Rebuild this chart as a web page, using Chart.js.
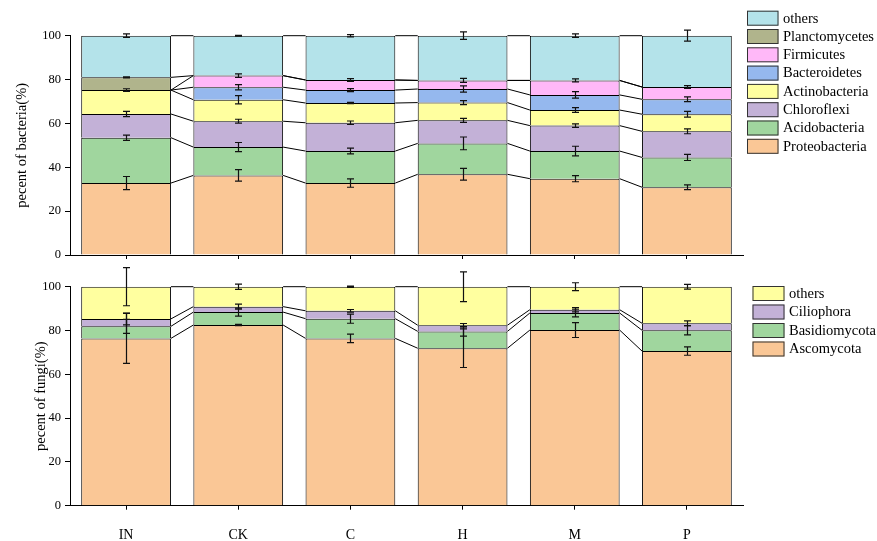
<!DOCTYPE html>
<html>
<head>
<meta charset="utf-8">
<script src="https://cdn.jsdelivr.net/npm/chart.js@4.4.0/dist/chart.umd.min.js"></script>
<style>
  html, body { margin: 0; padding: 0; background: #fff; }
  #wrap { position: relative; width: 877px; height: 541px; }
  canvas { position: absolute; left: 0; top: 0; }
</style>
</head>
<body>
<div id="wrap">
  <canvas id="fungiChart" width="877" height="541"></canvas>
  <canvas id="bacteriaChart" width="877" height="541"></canvas>
</div>
<script>
// groups on the x axis
const groups = ['IN', 'CK', 'C', 'H', 'M', 'P'];

// bacteria, stacked bottom -> top (%)
const bacteriaTaxa = ['Proteobacteria', 'Acidobacteria', 'Chloroflexi', 'Actinobacteria',
    'Bacteroidetes', 'Firmicutes', 'Planctomycetes', 'others'];
const proteobacteria = [32.8, 36.3, 32.8, 36.8, 34.8, 30.9];
const acidobacteria  = [20.7, 12.9, 14.6, 14.1, 12.6, 13.6];
const chloroflexi    = [10.8, 11.8, 12.9, 10.5, 11.6, 11.9];
const actinobacteria = [10.9, 9.8, 9.0, 8.1, 7.1, 7.8];
const bacteroidetes  = [0, 5.7, 5.9, 6.2, 6.9, 6.8];
const firmicutes     = [0, 5.3, 4.6, 3.9, 6.6, 5.6];
const planctomycetes = [5.8, 0, 0, 0, 0, 0];
const othersBact     = [19.0, 18.2, 20.2, 20.4, 20.4, 23.4];

// error bars (±) for bacteria
const proteobacteriaErr = [3.0, 2.6, 1.9, 2.7, 1.4, 1.1];
const acidobacteriaErr  = [1.2, 2.1, 1.3, 2.9, 2.2, 1.4];
const chloroflexiErr    = [1.2, 0.9, 0.8, 0.9, 0.8, 1.1];
const actinobacteriaErr = [0.6, 1.9, 0.3, 0.9, 1.1, 1.3];
const bacteroidetesErr  = [0, 1.2, 0.7, 1.4, 1.5, 1.1];
const firmicutesErr     = [0, 0.8, 0.6, 0.9, 0.7, 0.6];
const planctomycetesErr = [0.2, 0, 0, 0, 0, 0];
const othersBactErr     = [0.8, 0.2, 0.5, 1.7, 0.8, 2.5];

// fungi, stacked bottom -> top (%)
const fungiTaxa = ['Ascomycota', 'Basidiomycota', 'Ciliophora', 'others'];
const ascomycota    = [76.4, 82.5, 76.4, 71.9, 80.2, 70.6];
const basidiomycota = [5.5, 5.9, 9.0, 7.7, 7.8, 9.5];
const ciliophora    = [3.4, 2.5, 3.6, 2.8, 1.5, 3.2];
const othersFungi   = [14.7, 9.1, 11.0, 17.6, 10.5, 16.7];

const ascomycotaErr    = [11.4, 0.3, 1.9, 8.8, 3.4, 1.9];
const basidiomycotaErr = [3.2, 1.8, 2.1, 2.2, 1.8, 2.1];
const ciliophoraErr    = [2.7, 1.1, 0.6, 0.8, 1.0, 1.1];
const othersFungiErr   = [8.7, 1.2, 0.3, 6.8, 1.8, 1.1];

const warna = {
    proteo: '#FAC796',
    acido: '#A0D69E',
    chloro: '#C3B1D7',
    actino: '#FFFF9F',
    bactero: '#95B8EE',
    firmi: '#FFB8F8',
    plancto: '#B0B48C',
    others: '#B4E3EA'
};

const fontFamily = "'Liberation Serif', 'Times New Roman', serif";
Chart.defaults.font.family = fontFamily;
Chart.defaults.color = '#000';

// garis penghubung antar batang
const connectorPlugin = {
    id: 'connectors',
    afterDatasetsDraw(chart) {
        const ctx = chart.ctx;
        ctx.save();
        ctx.strokeStyle = '#000';
        ctx.lineWidth = 1;
        chart.data.datasets.forEach((ds, d) => {
            const bars = chart.getDatasetMeta(d).data;
            ctx.beginPath();
            for (let i = 0; i < bars.length - 1; i++) {
                const a = bars[i], b = bars[i + 1];
                ctx.moveTo(a.x + a.width / 2, a.y);
                ctx.lineTo(b.x - b.width / 2, b.y);
            }
            ctx.stroke();
        });
        ctx.restore();
    }
};

// error bar di puncak tiap segmen
const errorPlugin = {
    id: 'errorBars',
    afterDraw(chart) {
        const ctx = chart.ctx;
        const yScale = chart.scales.y;
        const unit = yScale.getPixelForValue(0) - yScale.getPixelForValue(1);
        ctx.save();
        ctx.strokeStyle = '#111';
        ctx.lineWidth = 1.2;
        chart.data.datasets.forEach((ds, d) => {
            const bars = chart.getDatasetMeta(d).data;
            bars.forEach((bar, i) => {
                const err = ds.errors[i];
                if (!err) return;
                const e = err * unit;
                const x = Math.round(bar.x) + 0.5;
                ctx.beginPath();
                ctx.moveTo(x, bar.y - e);
                ctx.lineTo(x, bar.y + e);
                ctx.moveTo(x - 3.5, bar.y - e);
                ctx.lineTo(x + 3.5, bar.y - e);
                ctx.moveTo(x - 3.5, bar.y + e);
                ctx.lineTo(x + 3.5, bar.y + e);
                ctx.stroke();
            });
        });
        ctx.restore();
    }
};

// legenda kotak di kanan
const boxLegendPlugin = {
    id: 'boxLegend',
    afterDraw(chart, args, opts) {
        const ctx = chart.ctx;
        const list = chart.data.datasets.slice().reverse();
        ctx.save();
        ctx.font = '14.5px ' + fontFamily;
        ctx.textBaseline = 'middle';
        ctx.textAlign = 'left';
        list.forEach((ds, k) => {
            const top = opts.y + k * opts.step;
            ctx.fillStyle = ds.backgroundColor;
            ctx.fillRect(opts.x, top, opts.w, opts.h);
            ctx.strokeStyle = '#333';
            ctx.lineWidth = 1;
            ctx.strokeRect(opts.x + 0.5, top + 0.5, opts.w - 1, opts.h - 1);
            ctx.fillStyle = '#000';
            ctx.fillText(ds.label, opts.textX, top + opts.h / 2 + 0.5);
        });
        ctx.restore();
    }
};

function makeDatasets(taxa, series, errors, colors) {
    return taxa.map((name, i) => ({
        label: name,
        data: series[i],
        errors: errors[i],
        backgroundColor: colors[i],
        borderColor: '#000',
        borderWidth: { top: 1, left: 1, right: 1, bottom: 0 },
        borderSkipped: false,
        categoryPercentage: 1.0,
        barPercentage: 0.8
    }));
}

function makeChart(canvasId, cfg) {
    const ctx = document.getElementById(canvasId).getContext('2d');
    return new Chart(ctx, {
        type: 'bar',
        data: { labels: groups, datasets: cfg.datasets },
        options: {
            responsive: false,
            animation: false,
            devicePixelRatio: 1,
            layout: { padding: { top: cfg.top, right: 134, left: 0, bottom: 0 } },
            plugins: {
                legend: { display: false },
                tooltip: { enabled: false },
                boxLegend: cfg.legend
            },
            scales: {
                x: {
                    stacked: true,
                    offset: true,
                    grid: { color: 'transparent', tickColor: '#000', tickLength: 4, offset: false },
                    border: { display: true, color: '#000', width: 1 },
                    ticks: { display: cfg.showX, font: { size: 14 }, color: '#000', padding: 17 },
                    afterFit(s) { s.height = 541 - cfg.bottom; }
                },
                y: {
                    stacked: true,
                    min: 0,
                    max: 100,
                    ticks: { stepSize: 20, font: { size: 12.5 }, color: '#000', padding: 4 },
                    grid: { color: 'transparent', tickColor: '#000', tickLength: 5 },
                    border: { display: true, color: '#000', width: 1 },
                    title: {
                        display: true,
                        text: cfg.title,
                        font: { size: 14.5 },
                        color: '#000',
                        padding: { top: cfg.titlePad, bottom: 0 }
                    },
                    afterFit(s) { s.width = 70; }
                }
            }
        },
        plugins: [connectorPlugin, errorPlugin, boxLegendPlugin]
    });
}

document.addEventListener('DOMContentLoaded', () => {
    makeChart('bacteriaChart', {
        datasets: makeDatasets(
            bacteriaTaxa,
            [proteobacteria, acidobacteria, chloroflexi, actinobacteria, bacteroidetes, firmicutes, planctomycetes, othersBact],
            [proteobacteriaErr, acidobacteriaErr, chloroflexiErr, actinobacteriaErr, bacteroidetesErr, firmicutesErr, planctomycetesErr, othersBactErr],
            [warna.proteo, warna.acido, warna.chloro, warna.actino, warna.bactero, warna.firmi, warna.plancto, warna.others]
        ),
        top: 35.7,
        bottom: 255,
        showX: false,
        title: 'pecent of bacteria(%)',
        titlePad: 13,
        legend: { x: 747, y: 10.7, w: 31.5, h: 15, step: 18.3, textX: 783 }
    });

    makeChart('fungiChart', {
        datasets: makeDatasets(
            fungiTaxa,
            [ascomycota, basidiomycota, ciliophora, othersFungi],
            [ascomycotaErr, basidiomycotaErr, ciliophoraErr, othersFungiErr],
            [warna.proteo, warna.acido, warna.chloro, warna.actino]
        ),
        top: 286.7,
        bottom: 505.7,
        showX: true,
        title: 'pecent of fungi(%)',
        titlePad: 32,
        legend: { x: 752.5, y: 286, w: 32, h: 15, step: 18.5, textX: 789 }
    });
});
</script>
</body>
</html>
